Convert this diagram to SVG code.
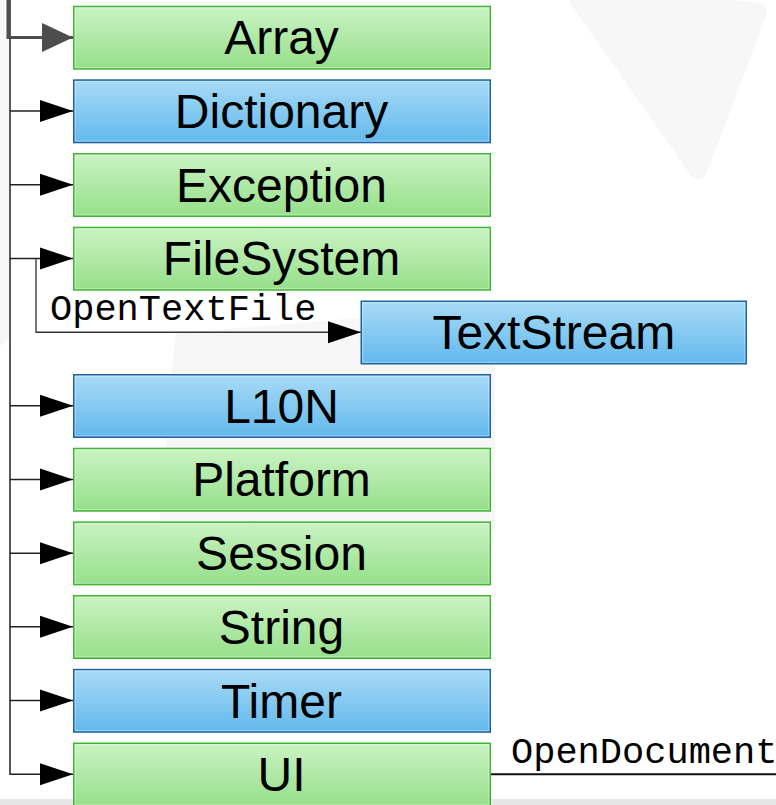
<svg xmlns="http://www.w3.org/2000/svg" width="776" height="805" viewBox="0 0 776 805">
<style>
.g{fill:url(#gg);stroke:#40b536;stroke-width:1.5}
.b{fill:url(#bg);stroke:#1f64a0;stroke-width:1.5}
.hl{fill:none;stroke:#ffffff;stroke-opacity:0.35;stroke-width:1}
.t{font-family:"Liberation Sans",Arial,sans-serif;font-size:48px;fill:#000;text-anchor:middle}
.m{font-family:"Liberation Mono","DejaVu Sans Mono",monospace;font-size:37px;fill:#000}
.c{fill:none;stroke:#222;stroke-width:1.5}
.wm{fill:#f7f7f7;stroke:#f7f7f7;stroke-linejoin:round}
</style>
<defs>
<linearGradient id="gg" x1="0" y1="0" x2="0" y2="1">
<stop offset="0" stop-color="#caf3c3"/>
<stop offset="1" stop-color="#96df8a"/>
</linearGradient>
<linearGradient id="bg" x1="0" y1="0" x2="0" y2="1">
<stop offset="0" stop-color="#a8dbf6"/>
<stop offset="1" stop-color="#62b8ec"/>
</linearGradient>
<marker id="ar" markerUnits="userSpaceOnUse" markerWidth="34" markerHeight="24" refX="33" refY="11" orient="auto" overflow="visible">
<path d="M0,0 L33,11 L0,22 Z" fill="#000"/>
</marker>
<marker id="arh" markerUnits="userSpaceOnUse" markerWidth="32" markerHeight="30" refX="31" refY="14.5" orient="auto" overflow="visible">
<path d="M0,0 L31,14.5 L0,29 Z" fill="#4d4d4d"/>
</marker>
</defs>
<rect width="776" height="805" fill="#ffffff"/>
<g id="watermark">
<polygon class="wm" stroke-width="18" points="572,-10 758,12 698,170"/>
<polygon class="wm" stroke-width="2" points="0,0 8,0 8,338 0,345"/>
<polygon class="wm" stroke-width="10" points="180,338 490,312 490,530 165,518"/>
</g>
<rect x="0" y="799" width="776" height="6" fill="#e6e6e6"/>
<g id="connectors">
<path class="c" d="M10,0 V774.25 H73" marker-end="url(#ar)"/>
<path class="c" d="M10,111.05 H73" marker-end="url(#ar)"/>
<path class="c" d="M10,184.75 H73" marker-end="url(#ar)"/>
<path class="c" d="M10,258.45 H73" marker-end="url(#ar)"/>
<path class="c" d="M10,405.75 H73" marker-end="url(#ar)"/>
<path class="c" d="M10,479.45 H73" marker-end="url(#ar)"/>
<path class="c" d="M10,553.15 H73" marker-end="url(#ar)"/>
<path class="c" d="M10,626.75 H73" marker-end="url(#ar)"/>
<path class="c" d="M10,700.55 H73" marker-end="url(#ar)"/>
<path d="M8,0 V37.45 H73" fill="none" stroke="#4d4d4d" stroke-width="3" marker-end="url(#arh)"/>
<path d="M36,258.45 V332.25 H361" fill="none" stroke="#333" stroke-width="1.3" marker-end="url(#ar)"/>
<path d="M490,774.25 H776" fill="none" stroke="#111" stroke-width="2"/>
<text class="m" x="50" y="320">OpenTextFile</text>
<text class="m" x="511" y="763">OpenDocument</text>
</g>
<g id="Array"><rect class="g" x="73.75" y="6.45" width="416.5" height="62.5"/><rect class="hl" x="75.25" y="7.95" width="413.5" height="59.5"/><text class="t" x="281.5" y="54.45">Array</text></g>
<g id="Dictionary"><rect class="b" x="73.75" y="80.05" width="416.5" height="62.5"/><rect class="hl" x="75.25" y="81.55" width="413.5" height="59.5"/><text class="t" x="281.5" y="128.05">Dictionary</text></g>
<g id="Exception"><rect class="g" x="73.75" y="153.75" width="416.5" height="62.5"/><rect class="hl" x="75.25" y="155.25" width="413.5" height="59.5"/><text class="t" x="281.5" y="201.75">Exception</text></g>
<g id="FileSystem"><rect class="g" x="73.75" y="227.45" width="416.5" height="62.5"/><rect class="hl" x="75.25" y="228.95" width="413.5" height="59.5"/><text class="t" x="281.5" y="275.45">FileSystem</text></g>
<g id="TextStream"><rect class="b" x="361.25" y="301.25" width="385" height="62.5"/><rect class="hl" x="362.75" y="302.75" width="382" height="59.5"/><text class="t" x="553.75" y="349.25">TextStream</text></g>
<g id="L10N"><rect class="b" x="73.75" y="374.75" width="416.5" height="62.5"/><rect class="hl" x="75.25" y="376.25" width="413.5" height="59.5"/><text class="t" x="281.5" y="422.75">L10N</text></g>
<g id="Platform"><rect class="g" x="73.75" y="448.45" width="416.5" height="62.5"/><rect class="hl" x="75.25" y="449.95" width="413.5" height="59.5"/><text class="t" x="281.5" y="496.45">Platform</text></g>
<g id="Session"><rect class="g" x="73.75" y="522.15" width="416.5" height="62.5"/><rect class="hl" x="75.25" y="523.65" width="413.5" height="59.5"/><text class="t" x="281.5" y="570.15">Session</text></g>
<g id="String"><rect class="g" x="73.75" y="595.75" width="416.5" height="62.5"/><rect class="hl" x="75.25" y="597.25" width="413.5" height="59.5"/><text class="t" x="281.5" y="643.75">String</text></g>
<g id="Timer"><rect class="b" x="73.75" y="669.55" width="416.5" height="62.5"/><rect class="hl" x="75.25" y="671.05" width="413.5" height="59.5"/><text class="t" x="281.5" y="717.55">Timer</text></g>
<g id="UI"><rect class="g" x="73.75" y="743.25" width="416.5" height="62.5"/><rect class="hl" x="75.25" y="744.75" width="413.5" height="59.5"/><text class="t" x="281.5" y="791.25">UI</text></g>
</svg>
